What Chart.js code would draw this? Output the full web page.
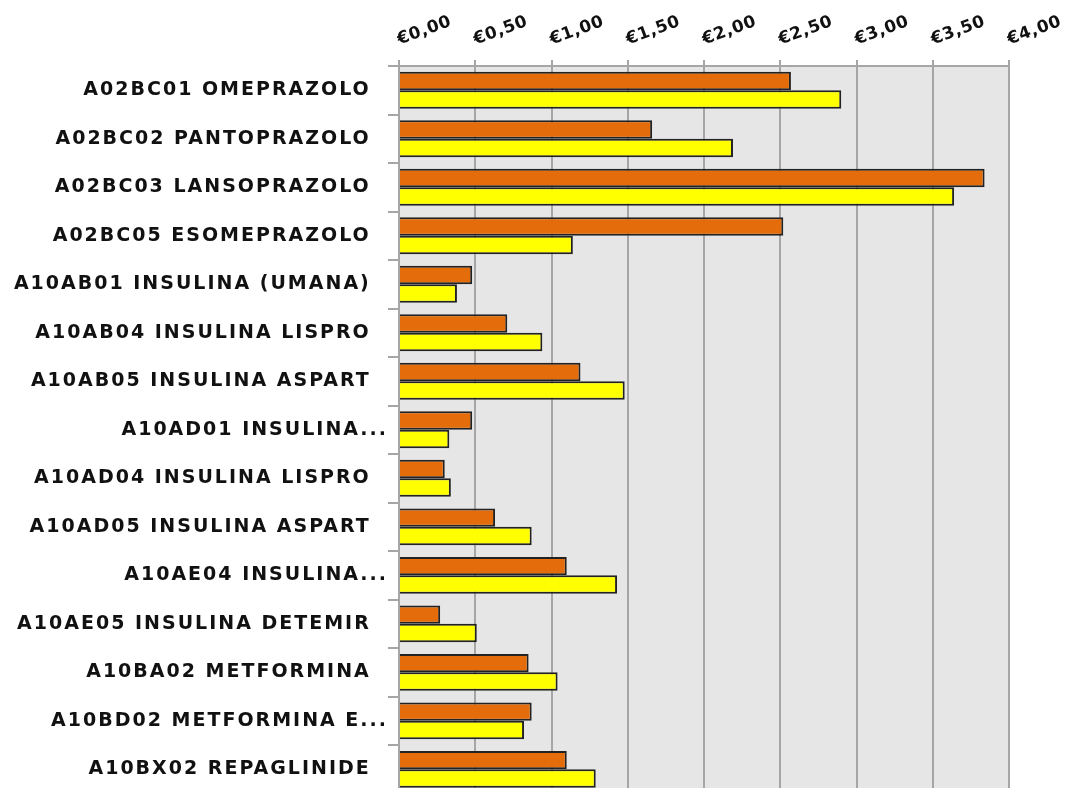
<!DOCTYPE html>
<html>
<head>
<meta charset="utf-8">
<script src="https://cdn.jsdelivr.net/npm/chart.js@4.4.1/dist/chart.umd.min.js"></script>
<style>
  html, body { margin: 0; padding: 0; background: #fff; overflow: hidden; }
  #chart { display: block; }
</style>
</head>
<body>
<canvas id="chart" width="1065" height="805"></canvas>
<script>
// ==========================
// Data
// ==========================
const categories = [
    "A02BC01 OMEPRAZOLO",
    "A02BC02 PANTOPRAZOLO",
    "A02BC03 LANSOPRAZOLO",
    "A02BC05 ESOMEPRAZOLO",
    "A10AB01 INSULINA (UMANA)",
    "A10AB04 INSULINA LISPRO",
    "A10AB05 INSULINA ASPART",
    "A10AD01 INSULINA...",
    "A10AD04 INSULINA LISPRO",
    "A10AD05 INSULINA ASPART",
    "A10AE04 INSULINA...",
    "A10AE05 INSULINA DETEMIR",
    "A10BA02 METFORMINA",
    "A10BD02 METFORMINA E...",
    "A10BX02 REPAGLINIDE"
];
const orangeValues = [2.57, 1.66, 3.84, 2.52, 0.48, 0.71, 1.19, 0.48, 0.30, 0.63, 1.10, 0.27, 0.85, 0.87, 1.10];
const yellowValues = [2.90, 2.19, 3.64, 1.14, 0.38, 0.94, 1.48, 0.33, 0.34, 0.87, 1.43, 0.51, 1.04, 0.82, 1.29];
const xTickLabels = ["€0,00", "€0,50", "€1,00", "€1,50", "€2,00", "€2,50", "€3,00", "€3,50", "€4,00"];

// ==========================
// Plot background + text spacing
// ==========================
const plotBg = {
    id: "plotBg",
    beforeDraw(chart) {
        const { ctx, chartArea: a } = chart;
        ctx.letterSpacing = "2px";   // wide category labels
        ctx.save();
        ctx.fillStyle = "#e6e6e6";
        ctx.fillRect(a.left, a.top, a.right - a.left, a.bottom - a.top);
        ctx.restore();
    },
    afterDatasetsDraw(chart) {
        chart.ctx.letterSpacing = "0.5px";   // x tick labels are drawn after this
    }
};

const gridGrey = "#a6a6a6";

new Chart(document.getElementById("chart"), {
    type: "bar",
    data: {
        labels: categories,
        datasets: [
            {
                label: "Serie 1",
                data: orangeValues,
                backgroundColor: "#e46c0a",
                borderColor: "#222",
                borderWidth: 2,
                categoryPercentage: 0.76,
                barPercentage: 1
            },
            {
                label: "Serie 2",
                data: yellowValues,
                backgroundColor: "#ffff00",
                borderColor: "#222",
                borderWidth: 2,
                categoryPercentage: 0.76,
                barPercentage: 1
            }
        ]
    },
    options: {
        indexAxis: "y",
        responsive: false,
        animation: false,
        layout: { padding: { top: 0, left: 0, right: 56, bottom: 7 } },
        plugins: {
            legend: { display: false },
            tooltip: { enabled: false }
        },
        scales: {
            x: {
                position: "top",
                min: 0,
                max: 4,
                afterFit: s => {
                    s.height = 66;
                    s.paddingLeft = 0;
                    s.paddingRight = 0;
                },
                border: { color: gridGrey, width: 2 },
                grid: { color: gridGrey, lineWidth: 2, tickLength: 6 },
                ticks: {
                    z: 1,
                    stepSize: 0.5,
                    minRotation: 20,
                    maxRotation: 20,
                    padding: 10,
                    labelOffset: 6,
                    color: "#111",
                    font: { family: "DejaVu Sans", size: 17, weight: "bold" },
                    callback: (v, i) => xTickLabels[i]
                }
            },
            y: {
                afterFit: s => { s.width = 399; },
                border: { color: gridGrey, width: 2 },
                grid: { color: gridGrey, lineWidth: 2, drawOnChartArea: false, tickLength: 11 },
                ticks: {
                    padding: 0,
                    color: "#111",
                    font: { family: "DejaVu Sans", size: 19, weight: "bold" },
                    callback: function (v) {
                        const t = this.getLabelForValue(v);
                        return t.endsWith("...") ? t : t + "  ";
                    }
                }
            }
        }
    },
    plugins: [plotBg]
});
</script>
</body>
</html>
